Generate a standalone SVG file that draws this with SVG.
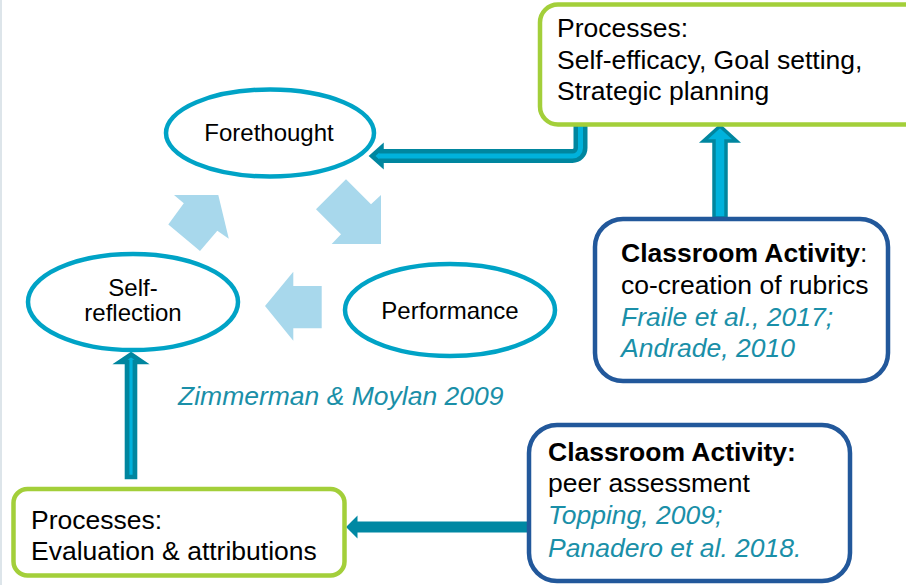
<svg xmlns="http://www.w3.org/2000/svg" width="906" height="585" viewBox="0 0 906 585">
<style>
text{font-family:"Liberation Sans",Arial,sans-serif;fill:#000}
.phase{fill:#fff;stroke:#00a3c6;stroke-width:4.5}
.ptxt{font-size:24px;text-anchor:middle}
.green{fill:#fff;stroke:#a3cf3a;stroke-width:4.5}
.blue{fill:#fff;stroke:#22589b;stroke-width:4.5}
.btxt{font-size:26.5px}
.b{font-weight:bold}
.cite{fill:#1a8fa8;font-style:italic}
.cycle{fill:#a8d8ec}
.dbl{fill:#00b2dc;stroke:#00869f;stroke-linejoin:miter}
.solid{fill:#0088a3}
</style>
<rect x="0" y="0" width="906" height="585" fill="#fff"/>
<rect x="0" y="0" width="2" height="585" fill="#dde5ea"/>
<g id="connectors">
<path class="dbl" stroke-width="4.5" d="M575.75 124 V148 A3.25 3.25 0 0 1 572.5 151.25 H381.5 V147.5 L372 156 L381.5 164.5 V160.75 H572.5 A12.75 12.75 0 0 0 585.25 148 V124 Z"/>
<polygon class="dbl" stroke-width="3.5" points="720,126 736.5,141 726,141 726,218 714,218 714,141 703.5,141"/>
<polygon class="dbl" stroke-width="4.7" points="131,354.5 142,362 134.95,362 134.95,477 127.050,477 127.05,362 120,362"/>
<polygon class="solid" points="346,527 357.5,515.5 357.5,521.5 531,521.5 531,532.5 357.5,532.5 357.5,538.5"/>
<polygon class="cycle" points="346,179.3 371,204.3 381,195 381,244 331.7,244 341,234.3 316,209.3"/>
<polygon class="cycle" points="321.7,286 293.3,286 293.3,271.7 265,306 293.3,340.7 293.3,328.3 321.7,328.3"/>
<polygon class="cycle" points="168.3,224.5 200,251 217.3,230.7 228.8,238.7 218.3,195 174,195 183.8,203.3"/>
</g>
<g id="forethought">
<ellipse class="phase" cx="270" cy="133" rx="104" ry="43.5"/>
<text class="ptxt" x="269" y="141">Forethought</text>
</g>
<g id="performance">
<ellipse class="phase" cx="450" cy="310" rx="105" ry="46"/>
<text class="ptxt" x="450" y="319">Performance</text>
</g>
<g id="self-reflection">
<ellipse class="phase" cx="133" cy="302" rx="105" ry="48"/>
<text class="ptxt" x="133" y="296">Self-</text>
<text class="ptxt" x="133" y="321">reflection</text>
</g>
<g id="forethought-processes">
<rect class="green" x="540" y="4.5" width="390" height="120" rx="18"/>
<text class="btxt" x="557" y="37">Processes:</text>
<text class="btxt" x="557" y="68.5">Self-efficacy, Goal setting,</text>
<text class="btxt" x="557" y="100">Strategic planning</text>
</g>
<g id="reflection-processes">
<rect class="green" x="13.5" y="489" width="331" height="86.5" rx="14"/>
<text class="btxt" x="31" y="529">Processes:</text>
<text class="btxt" x="31" y="560">Evaluation &amp; attributions</text>
</g>
<g id="activity-rubrics">
<rect class="blue" x="595" y="219" width="293" height="162" rx="28"/>
<text class="btxt" x="621" y="262"><tspan class="b">Classroom Activity</tspan>:</text>
<text class="btxt" x="621" y="293.5">co-creation of rubrics</text>
<text class="btxt cite" x="621" y="325.5">Fraile et al., 2017;</text>
<text class="btxt cite" x="621" y="357">Andrade, 2010</text>
</g>
<g id="activity-peer">
<rect class="blue" x="529" y="425" width="321" height="156" rx="28"/>
<text class="btxt b" x="548" y="460.5">Classroom Activity:</text>
<text class="btxt" x="548" y="492">peer assessment</text>
<text class="btxt cite" x="548" y="524">Topping, 2009;</text>
<text class="btxt cite" x="548" y="556.5">Panadero et al. 2018.</text>
</g>
<g id="source">
<text class="btxt cite" x="178" y="405">Zimmerman &amp; Moylan 2009</text>
</g>
</svg>
